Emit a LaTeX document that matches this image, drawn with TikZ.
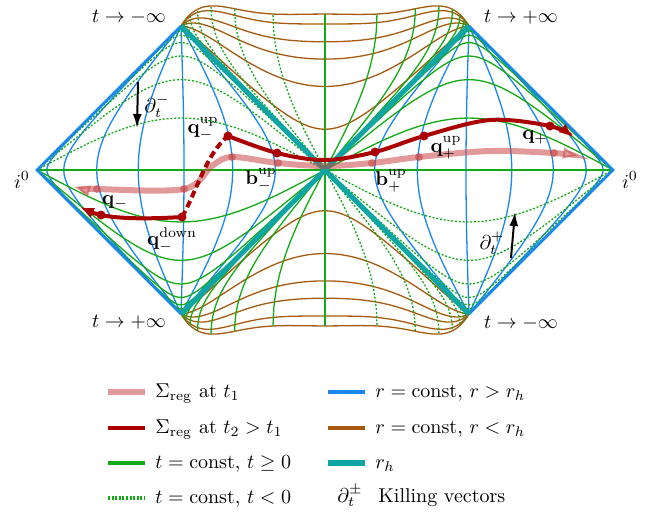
\documentclass[tikz,border=0pt]{standalone}
\usetikzlibrary{arrows.meta}
\definecolor{cblue}{RGB}{25,135,240}
\definecolor{cbrown}{RGB}{165,90,15}
\definecolor{cgreen}{RGB}{20,170,20}
\definecolor{cteal}{RGB}{15,165,165}
\definecolor{cdred}{RGB}{170,0,0}
\definecolor{clred}{RGB}{200,70,70}
\tikzset{
  declare function={
    Sl(\la)=atan(exp(max(min(\la,9),-9)))/90;
    Yd(\pa,\pb)=\pa+\pb+4*\pa*\pb*(0.083+0.74*((\pb-\pa)*(\pb-\pa))*((\pb-\pa)*(\pb-\pa)));
  },
  thincurve/.style={line width=0.65pt},
  browncurve/.style={thincurve, draw=cbrown},
  bluecurve/.style={thincurve, draw=cblue},
  greensolid/.style={thincurve, draw=cgreen},
  greendot/.style={thincurve, draw=cgreen, dash pattern=on 1pt off 0.9pt},
  boundary/.style={line width=1.25pt, draw=cblue, line join=miter},
  horizon/.style={line width=2.5pt, draw=cteal},
  sigtwo/.style={line width=2pt, draw=cdred},
  sigone/.style={line width=3pt, draw=clred, draw opacity=0.55},
  dotdark/.style={circle, fill=cdred, inner sep=0pt, minimum size=4.5pt},
  dotlight/.style={circle, fill=clred, fill opacity=0.6, inner sep=0pt, minimum size=4pt},
  lbl/.style={inner sep=0pt},
  legtext/.style={inner sep=0pt, anchor=base west},
  killing/.style={line width=1pt, -{Latex[length=7pt,width=4.5pt]}},
}
\newcommand\halfcurves{%
  % r = const < r_h (interior, top)
  \foreach \lc in {-1.511,-0.765,-0.444,-0.266,-0.0934,0}{
    \draw[browncurve] plot[smooth,variable=\ta,domain=-10:10,samples=101]
      ({Sl(\lc-(\ta))-Sl(\lc+(\ta))},{Yd(Sl(\lc+(\ta)),Sl(\lc-(\ta)))});
  }
  % r = const > r_h (exterior, right)
  \foreach \lc in {-1.281,-0.5964,-0.0329,0.4847,1.0859,1.9156,2.9145}{
    \draw[bluecurve] plot[smooth,variable=\ta,domain=-10:10,samples=101]
      ({Sl(\lc+(\ta))+Sl(\lc-(\ta))},{Sl(\lc-(\ta))-Sl(\lc+(\ta))});
  }
  % t = const
  \foreach \j in {1,...,8}{
    \draw[greensolid] plot[smooth,variable=\ta,domain=-12:0,samples=61]
      ({Sl(\ta+0.6*\j)-Sl(\ta-0.6*\j)},{Yd(Sl(\ta-0.6*\j),Sl(\ta+0.6*\j))});
    \draw[greendot] plot[smooth,variable=\ta,domain=-12:0,samples=61]
      ({Sl(\ta-0.6*\j)-Sl(\ta+0.6*\j)},{Yd(Sl(\ta+0.6*\j),Sl(\ta-0.6*\j))});
    \draw[greensolid] plot[smooth,variable=\ta,domain=-12:12,samples=121]
      ({Sl(\ta-0.6*\j)+Sl(\ta+0.6*\j)},{Sl(\ta+0.6*\j)-Sl(\ta-0.6*\j)});
    \draw[greendot] plot[smooth,variable=\ta,domain=-12:12,samples=121]
      ({Sl(\ta-0.6*\j)+Sl(\ta+0.6*\j)},{Sl(\ta-0.6*\j)-Sl(\ta+0.6*\j)});
  }
}
\begin{document}
\begin{tikzpicture}[x=0.5pt,y=-0.5pt]
\useasboundingbox (0,0) rectangle (670,515);
\begin{scope}[shift={(325,170)},x=72pt,y=72pt]
  \halfcurves
  \begin{scope}[rotate=180]\halfcurves\end{scope}
  \draw[greensolid] (-2,0) -- (2,0);
  \draw[greensolid] (0,-1.083) -- (0,1.083);
  \coordinate (TL) at (-1,1);
  \coordinate (TR) at (1,1);
  \coordinate (BL) at (-1,-1);
  \coordinate (BR) at (1,-1);
  \coordinate (iL) at (-2,0);
  \coordinate (iR) at (2,0);
  \draw[boundary] (TL) -- (iL) -- (BL);
  \draw[boundary] (TR) -- (iR) -- (BR);
  \draw[horizon] (TL) -- (BR);
  \draw[horizon] (TR) -- (BL);
\end{scope}

% Sigma_reg at t1 (light)
\coordinate (qmtipA) at (74,187);
\node[dotlight] (qmA) at (97,189) {};
\node[dotlight] (qmdA) at (184,189) {};
\coordinate (rampA) at (212,166);
\node[dotlight] (qmuA) at (232,157) {};
\node[dotlight] (bmuA) at (278,163) {};
\coordinate (midA) at (325,166);
\node[dotlight] (bpuA) at (372,163) {};
\node[dotlight] (qpuA) at (419,157) {};
\coordinate (pkA) at (490,151);
\node[dotlight] (qpA) at (554,153) {};
\coordinate (qptipA) at (579,156);
\draw[sigone, {Latex[open,length=8pt,width=6pt,line width=1pt]}-{Latex[open,length=8pt,width=6pt,line width=1pt]}]
  plot[smooth,tension=0.55] coordinates {(qmtipA) (qmA.center) (qmdA.center) (rampA) (qmuA.center) (bmuA.center) (midA) (bpuA.center) (qpuA.center) (pkA) (qpA.center) (qptipA)};

% Sigma_reg at t2 (dark)
\coordinate (qmtipB) at (80,207);
\node[dotdark] (qmB) at (101,215) {};
\node[dotdark] (qmdB) at (182,217) {};
\node[dotdark] (qmuB) at (228,136) {};
\node[dotdark] (bmuB) at (277,153) {};
\coordinate (midB) at (325,160);
\node[dotdark] (bpuB) at (375,152) {};
\node[dotdark] (qpuB) at (424,136) {};
\coordinate (pkB) at (490,120);
\node[dotdark] (qpB) at (550,126) {};
\coordinate (qptipB) at (573,137);
\draw[sigtwo, -{Latex[length=7pt,width=5.5pt]}] (qmdB.center) .. controls (150,219) and (120,219) .. (qmB.center) .. controls (93,213) .. (qmtipB);
\draw[sigtwo, dash pattern=on 3.5pt off 2pt] (qmdB.center) .. controls (196,193) and (206,154) .. (qmuB.center);
\draw[sigtwo, -{Latex[length=7pt,width=5.5pt]}]
  plot[smooth,tension=0.55] coordinates {(qmuB.center) (bmuB.center) (midB) (bpuB.center) (qpuB.center) (pkB) (qpB.center) (qptipB)};

% Killing vector arrows
\coordinate (kmA) at (138,82);
\coordinate (kmB) at (137,128);
\draw[killing] (kmA) -- (kmB);
\coordinate (kpA) at (511,258);
\coordinate (kpB) at (515,212);
\draw[killing] (kpA) -- (kpB);

% labels
\node[lbl] (ltl) at (129,17) {$t\to-\infty$};
\node[lbl] (ltr) at (521,17) {$t\to+\infty$};
\node[lbl] (lbl) at (129,322) {$t\to+\infty$};
\node[lbl] (lbr) at (521,323) {$t\to-\infty$};
\node[lbl] (i0l) at (22,180) {$i^0$};
\node[lbl] (i0r) at (630,180) {$i^0$};
\node[lbl] (dtm) at (157,106) {$\partial_t^-$};
\node[lbl] (dtp) at (492,243) {$\partial_t^+$};
\node[lbl] (Lqmu) at (203,129) {$\mathbf{q}_-^{\mathrm{up}}$};
\node[lbl] (Lqm) at (115,202) {$\mathbf{q}_-$};
\node[lbl] (Lqmd) at (172,240) {$\mathbf{q}_-^{\mathrm{down}}$};
\node[lbl] (Lbmu) at (261,180) {$\mathbf{b}_-^{\mathrm{up}}$};
\node[lbl] (Lbpu) at (391,181) {$\mathbf{b}_+^{\mathrm{up}}$};
\node[lbl] (Lqpu) at (446,148) {$\mathbf{q}_+^{\mathrm{up}}$};
\node[lbl] (Lqp) at (535,137) {$\mathbf{q}_+$};

% legend
\draw[sigone, line width=2.6pt] (108,392) -- (145,392);
\node[legtext] (g1) at (155,397) {$\Sigma_{\mathrm{reg}}$ at $t_1$};
\draw[sigtwo, line width=2.4pt] (108,428) -- (145,428);
\node[legtext] (g2) at (155,433) {$\Sigma_{\mathrm{reg}}$ at $t_2>t_1$};
\draw[cgreen, line width=1.6pt] (108,463) -- (145,463);
\node[legtext] (g3) at (155,468) {$t=\mathrm{const}$, $t\geq 0$};
\draw[cgreen, line width=1.6pt, dash pattern=on 1pt off 0.8pt] (108,498) -- (145,498);
\node[legtext] (g4) at (155,503) {$t=\mathrm{const}$, $t<0$};
\draw[cblue, line width=1.6pt] (328,392) -- (365,392);
\node[legtext] (g5) at (375,397) {$r=\mathrm{const}$, $r>r_h$};
\draw[cbrown, line width=1.6pt] (328,428) -- (365,428);
\node[legtext] (g6) at (375,433) {$r=\mathrm{const}$, $r<r_h$};
\draw[cteal, line width=2.8pt] (328,463) -- (365,463);
\node[legtext] (g7) at (375,468) {$r_h$};
\node[legtext] (g8) at (337,502) {$\partial_t^{\pm}$};
\node[legtext] (g9) at (378,502) {Killing vectors};
\end{tikzpicture}
\end{document}
